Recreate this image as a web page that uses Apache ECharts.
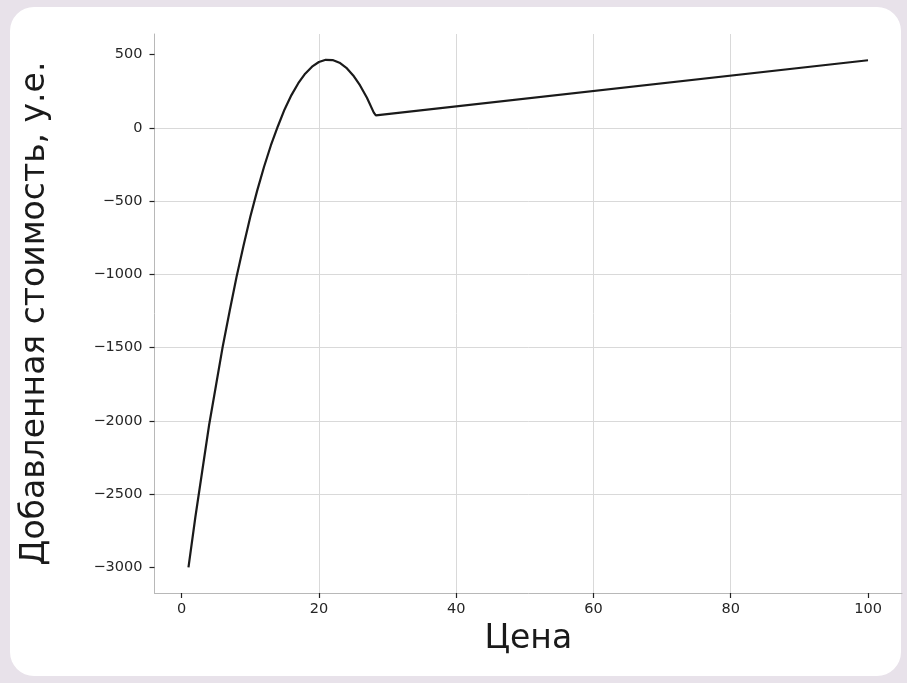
<!DOCTYPE html>
<html><head><meta charset="utf-8">
<script src="https://cdn.jsdelivr.net/npm/echarts@6/dist/echarts.min.js"></script>
<style>
html,body{margin:0;padding:0;background:#e8e2ea;width:907px;height:683px;overflow:hidden}
#panel{position:absolute;left:10px;top:7px;width:891px;height:669px;background:#fff;border-radius:24px}
#chart{position:absolute;left:0;top:0;width:907px;height:683px}
</style></head><body>
<div id="panel"></div><div id="chart"></div>
<script>
const price = [1,2,3,4,5,6,7,8,9,10,11,12,13,14,15,16,17,18,19,20,21,22,23,24,25,26,27,28,28.3,100];
const addedValue = [-3000,-2658,-2344,-2030,-1760,-1490,-1250,-1018,-808,-608,-430,-267,-120,8,126,224,305,370,418,450,465,463,445,410,358,290,206,104,85,462];
const xTicks = [0,20,40,60,80,100];
const yTicks = [-3000,-2500,-2000,-1500,-1000,-500,0,500];
const xTitle = 'Цена';
const yTitle = 'Добавленная стоимость, у.е.';

const fmt = v => String(v).replace('-', '\u2212');
const xMin = -3.95, xMax = 104.95, yMin = -3175, yMax = 641;
const chart = echarts.init(document.getElementById('chart'), null, {renderer:'canvas'});
chart.setOption({
  animation:false,
  backgroundColor:'transparent',
  textStyle:{fontFamily:'DejaVu Sans'},
  grid:{left:154.5,right:5,top:34,bottom:90,containLabel:false},
  xAxis:{
    type:'value',min:xMin,max:xMax,splitNumber:5,
    name:xTitle,nameLocation:'middle',nameGap:30,
    nameTextStyle:{fontSize:33,color:'#1a1a1a',fontFamily:'DejaVu Sans'},
    axisLine:{show:true,onZero:false,lineStyle:{color:'#b8b8b8',width:1}},
    axisTick:{show:true,length:5,customValues:xTicks,lineStyle:{color:'#222',width:1.2}},
    axisLabel:{customValues:xTicks,fontSize:14.5,color:'#262626',margin:9,formatter:fmt},
    splitLine:{show:true,showMinLine:false,showMaxLine:false,lineStyle:{color:'#d9d9d9',width:1}}
  },
  yAxis:{
    type:'value',min:yMin,max:yMax,splitNumber:8,
    name:yTitle,nameLocation:'middle',nameGap:103,
    nameTextStyle:{fontSize:33,color:'#1a1a1a',fontFamily:'DejaVu Sans'},
    axisLine:{show:true,onZero:false,lineStyle:{color:'#b8b8b8',width:1}},
    axisTick:{show:true,length:5,customValues:yTicks,lineStyle:{color:'#222',width:1.2}},
    axisLabel:{customValues:yTicks,fontSize:14.5,color:'#262626',margin:12,formatter:fmt},
    splitLine:{show:true,showMinLine:false,showMaxLine:false,lineStyle:{color:'#d9d9d9',width:1}}
  },
  series:[{
    type:'line',
    data:price.map((p,i)=>[p,addedValue[i]]),
    showSymbol:false,symbol:'none',
    lineStyle:{color:'#1a1a1a',width:2.2},
    clip:false,z:3
  }]
});
</script></body></html>
